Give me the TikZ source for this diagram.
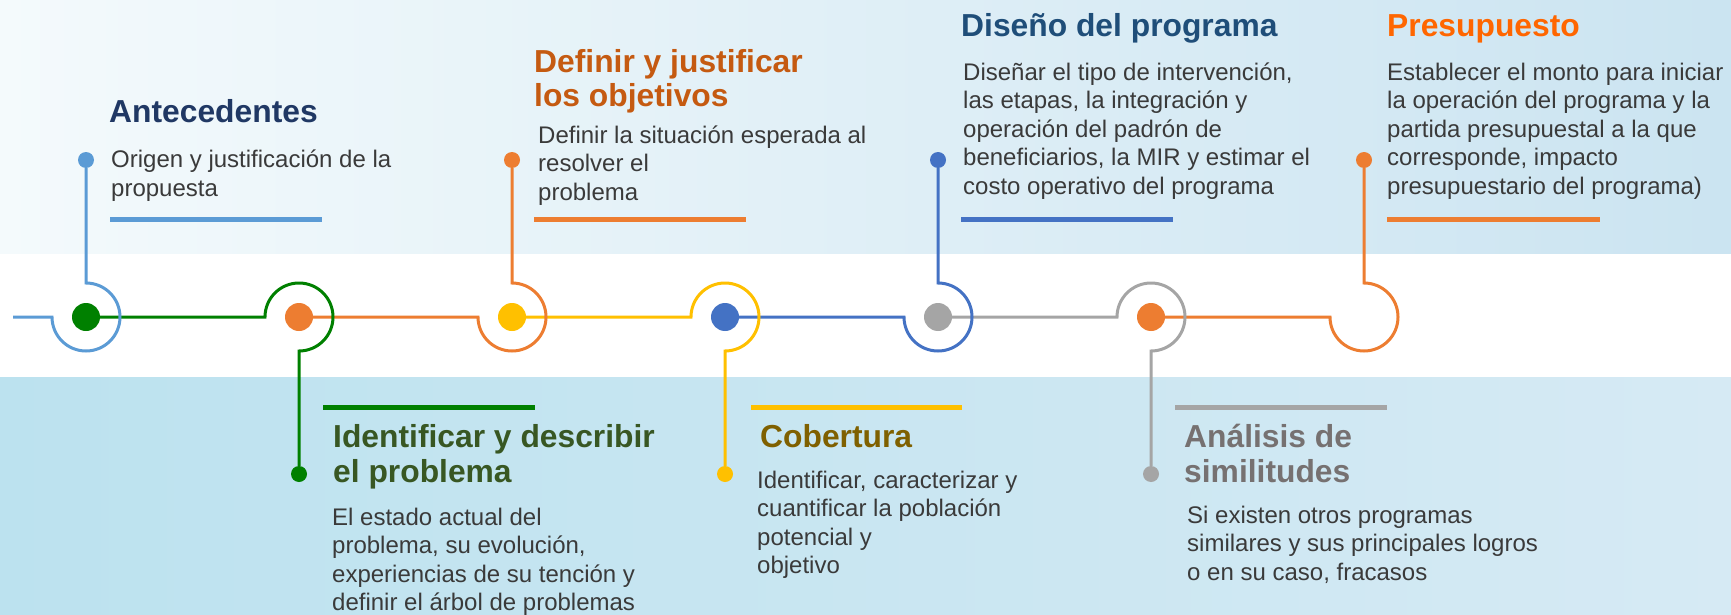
\documentclass[tikz,border=0pt]{standalone}
\usepackage{fontspec}
\setmainfont{Liberation Sans}

\definecolor{cblueA}{HTML}{5B9BD5}
\definecolor{cgreen}{HTML}{008000}
\definecolor{corange}{HTML}{ED7D31}
\definecolor{cyellow}{HTML}{FFC000}
\definecolor{cblueB}{HTML}{4472C4}
\definecolor{cgray}{HTML}{A5A5A5}
\definecolor{tnavy}{HTML}{203864}
\definecolor{trust}{HTML}{C55A11}
\definecolor{tblue}{HTML}{1F4E79}
\definecolor{torange}{HTML}{FF6600}
\definecolor{tgreen}{HTML}{385723}
\definecolor{tgold}{HTML}{7F6000}
\definecolor{tgray}{HTML}{767171}
\definecolor{bodygray}{HTML}{3A3A3A}
\definecolor{bgtopL}{HTML}{F4FAFC}
\definecolor{bgtopM}{HTML}{DAEEF6}
\definecolor{bgtopR}{HTML}{CBE4F1}
\definecolor{bgbotL}{HTML}{BCE2EF}
\definecolor{bgbotR}{HTML}{D6EAF4}

\begin{document}
\begin{tikzpicture}[x=1pt, y=1pt]
    \tikzstyle{hub} = [circle, minimum size=28pt, inner sep=0pt, node distance=213pt]
    \tikzstyle{tip} = [circle, minimum size=16pt, inner sep=0pt, node distance=157pt]
    \tikzstyle{track} = [line width=3pt]
    \tikzstyle{bar} = [line width=5pt]
    % base anchor = baseline of the last line
    \tikzstyle{title} = [anchor=base west, inner sep=0pt, align=left, font=\fontsize{31.8}{35}\selectfont\bfseries]
    \tikzstyle{body} = [anchor=base west, inner sep=0pt, align=left, text=bodygray, font=\fontsize{24}{28.5}\selectfont]

    % background
    \useasboundingbox (0,0) rectangle (1731,-615);
    \shade[left color=bgtopL, middle color=bgtopM, right color=bgtopR] (0,0) rectangle (1731,-254);
    \fill[white] (0,-254) rectangle (1731,-377);
    \shade[left color=bgbotL, right color=bgbotR] (0,-377) rectangle (1731,-615);

    % timeline
    \node[hub, fill=cgreen] (n1) at (86,-317) {};
    \node[hub, fill=corange, right of = n1] (n2) {};
    \node[hub, fill=cyellow, right of = n2] (n3) {};
    \node[hub, fill=cblueB, right of = n3] (n4) {};
    \node[hub, fill=cgray, right of = n4] (n5) {};
    \node[hub, fill=corange, right of = n5] (n6) {};
    \coordinate[node distance=213pt, right of = n6] (n7);
    \coordinate (start) at (13,-317);

    \node[tip, fill=cblueA, above of = n1] (d1) {};
    \node[tip, fill=cgreen, below of = n2] (d2) {};
    \node[tip, fill=corange, above of = n3] (d3) {};
    \node[tip, fill=cyellow, below of = n4] (d4) {};
    \node[tip, fill=cblueB, above of = n5] (d5) {};
    \node[tip, fill=cgray, below of = n6] (d6) {};
    \node[tip, fill=corange, above of = n7] (d7) {};

    \draw[track, corange](n6) -- ([xshift=-34pt]n7) arc[start angle=180, end angle=450, radius=34] -- (d7);
    \draw[track, cgray](n5) -- ([xshift=-34pt]n6.center) arc[start angle=180, end angle=-90, radius=34] -- (d6);
    \draw[track, cblueB](n4) -- ([xshift=-34pt]n5.center) arc[start angle=180, end angle=450, radius=34] -- (d5);
    \draw[track, cyellow](n3) -- ([xshift=-34pt]n4.center) arc[start angle=180, end angle=-90, radius=34] -- (d4);
    \draw[track, corange](n2) -- ([xshift=-34pt]n3.center) arc[start angle=180, end angle=450, radius=34] -- (d3);
    \draw[track, cgreen](n1) -- ([xshift=-34pt]n2.center) arc[start angle=180, end angle=-90, radius=34] -- (d2);
    \draw[track, cblueA](start) -- ([xshift=-34pt]n1.center) arc[start angle=180, end angle=450, radius=34] -- (d1);

    % upper texts
    \node[title, text=tnavy](t1) at (109,-122){Antecedentes};
    \node[body](b1) at (111,-196.5){Origen y justificación de la\\propuesta};
    \draw[bar, cblueA](110,-219) -- (322,-219);

    \node[title, text=trust](t3) at (534,-107){Definir y justificar\\los objetivos};
    \node[body](b3) at (538,-200){Definir la situación esperada al\\resolver el\\problema};
    \draw[bar, corange](534,-219) -- (746,-219);

    \node[title, text=tblue](t5) at (961,-37){Diseño del programa};
    \node[body](b5) at (963,-194){Diseñar el tipo de intervención,\\las etapas, la integración y\\operación del padrón de\\beneficiarios, la MIR y estimar el\\costo operativo del programa};
    \draw[bar, cblueB](961,-219) -- (1173,-219);

    \node[title, text=torange](t7) at (1387,-37){Presupuesto};
    \node[body](b7) at (1387,-194){Establecer el monto para iniciar\\la operación del programa y la\\partida presupuestal a la que\\corresponde, impacto\\presupuestario del programa)};
    \draw[bar, corange](1387,-219) -- (1600,-219);

    % lower texts
    \draw[bar, cgreen](323,-407) -- (535,-407);
    \node[title, text=tgreen](t2) at (333,-482){Identificar y describir\\el problema};
    \node[body](b2) at (332,-610.5){El estado actual del\\problema, su evolución,\\experiencias de su tención y\\definir el árbol de problemas};

    \draw[bar, cyellow](751,-407) -- (962,-407);
    \node[title, text=tgold](t4) at (760,-447){Cobertura};
    \node[body](b4) at (757,-573.5){Identificar, caracterizar y\\cuantificar la población\\potencial y\\objetivo};

    \draw[bar, cgray](1175,-407) -- (1387,-407);
    \node[title, text=tgray](t6) at (1184,-482){Análisis de\\similitudes};
    \node[body](b6) at (1187,-580){Si existen otros programas\\similares y sus principales logros\\o en su caso, fracasos};

\end{tikzpicture}
\end{document}
